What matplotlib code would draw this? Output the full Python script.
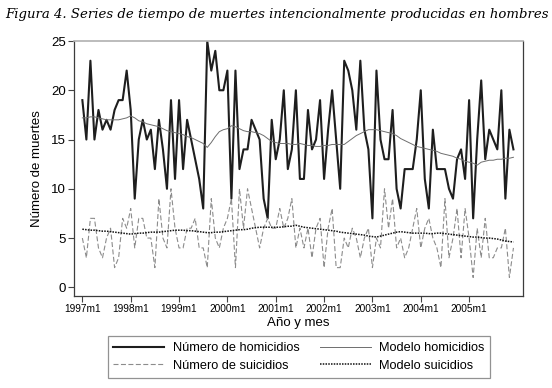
#!/usr/bin/env python3
import matplotlib
matplotlib.use("Agg")
import matplotlib.pyplot as plt
import numpy as np

matplotlib.rcParams.update({'font.family': 'Liberation Sans', 'font.size': 9.5})

# monthly series, 1997m1 .. 2005m12
homicidios = [19, 15, 23, 15, 18, 16, 17, 16, 18, 19, 19, 22,
              18, 9, 15, 17, 15, 16, 12, 17, 14, 10, 19, 11,
              19, 12, 17, 15, 13, 11, 8, 25, 22, 24, 20, 20,
              22, 9, 22, 12, 14, 14, 17, 16, 15, 9, 7, 17,
              13, 15, 20, 12, 14, 20, 11, 11, 18, 14, 15, 19,
              11, 16, 20, 15, 10, 23, 22, 20, 16, 23, 16, 14,
              7, 22, 15, 13, 13, 18, 10, 8, 12, 12, 12, 15,
              20, 11, 8, 16, 12, 12, 12, 10, 9, 13, 14, 11,
              19, 7, 15, 21, 13, 16, 15, 14, 20, 9, 16, 14]

suicidios = [5, 3, 7, 7, 4, 3, 5, 6, 2, 3, 7, 6,
             8, 4, 7, 7, 5, 5, 2, 9, 5, 4, 10, 6,
             4, 4, 6, 6, 7, 4, 4, 2, 9, 5, 4, 6,
             7, 9, 2, 10, 6, 10, 8, 6, 4, 6, 7, 6,
             6, 8, 6, 7, 9, 4, 6, 4, 6, 3, 6, 7,
             2, 6, 8, 2, 2, 5, 4, 6, 5, 3, 5, 6,
             2, 5, 4, 10, 6, 9, 4, 5, 3, 4, 6, 8,
             4, 6, 7, 5, 4, 2, 9, 3, 5, 8, 3, 8,
             5, 1, 6, 3, 7, 3, 3, 4, 4, 6, 1, 4]

modelo_hom = [17.2, 17.2, 17.3, 17.3, 17.2, 17.1, 17.0, 17.0, 17.0, 17.0, 17.1, 17.2,
              17.4, 17.2, 16.9, 16.8, 16.6, 16.5, 16.4, 16.3, 16.1, 15.9, 15.8, 15.7,
              15.6, 15.5, 15.3, 15.2, 15.0, 14.8, 14.6, 14.2, 14.7, 15.3, 15.8, 16.0,
              16.1, 16.4, 16.3, 16.1, 15.9, 15.8, 15.8, 15.7, 15.6, 15.4, 15.1, 14.8,
              14.7, 14.6, 14.6, 14.6, 14.5, 14.5, 14.6, 14.5, 14.4, 14.4, 14.3, 14.3,
              14.4, 14.4, 14.5, 14.5, 14.5, 14.5, 14.8, 15.1, 15.4, 15.6, 15.8, 16.0,
              16.0, 16.0, 15.9, 15.8, 15.7, 15.6, 15.4, 15.1, 14.9, 14.7, 14.5, 14.3,
              14.2, 14.1, 14.0, 13.9, 13.8, 13.6, 13.5, 13.4, 13.3, 13.1, 13.0, 12.8,
              12.7, 12.6, 12.4, 12.7, 12.8, 12.9, 12.9, 13.0, 13.0, 13.1, 13.1, 13.2]

modelo_sui = [5.9, 5.85, 5.8, 5.8, 5.75, 5.7, 5.7, 5.65, 5.6, 5.55, 5.5, 5.45,
              5.4, 5.45, 5.5, 5.5, 5.55, 5.6, 5.6, 5.6, 5.65, 5.7, 5.75, 5.8,
              5.8, 5.8, 5.75, 5.75, 5.7, 5.65, 5.6, 5.55, 5.55, 5.6, 5.6, 5.65,
              5.7, 5.75, 5.8, 5.85, 5.85, 5.9, 6.0, 6.05, 6.1, 6.1, 6.1, 6.1,
              6.1, 6.1, 6.15, 6.2, 6.2, 6.3, 6.2, 6.1, 6.05, 6.0, 5.95, 5.9,
              5.85, 5.8, 5.75, 5.7, 5.6, 5.55, 5.5, 5.45, 5.4, 5.35, 5.3, 5.2,
              5.15, 5.1, 5.2, 5.3, 5.4, 5.5, 5.6, 5.65, 5.6, 5.55, 5.5, 5.5,
              5.5, 5.5, 5.45, 5.45, 5.5, 5.5, 5.45, 5.4, 5.35, 5.3, 5.25, 5.2,
              5.15, 5.1, 5.1, 5.05, 5.0, 5.0, 4.95, 4.9, 4.8, 4.7, 4.65, 4.6]

years = list(range(1997, 2006))
tick_labels = [f'{y}m1' for y in years]

months = np.arange(len(homicidios))

fig = plt.figure(figsize=(5.52, 3.88), dpi=100)
ax = fig.add_axes([74.3/552, 1 - 296/388, (522.7 - 74.3)/552, (296 - 41)/388])

l1, = ax.plot(months, homicidios, color='#1e1e1e', lw=1.5, label='Número de homicidios')
l3, = ax.plot(months, modelo_hom, color='#6e6e6e', lw=0.7, label='Modelo homicidios')
l2, = ax.plot(months, suicidios, color='#8c8c8c', lw=0.8, dashes=(4.5, 2.2), label='Número de suicidios')
l4, = ax.plot(months, modelo_sui, color='#111111', lw=1.1, dashes=(1, 0.8), label='Modelo suicidios')

ax.set_xlim(-2, 109.3)
ax.set_ylim(-0.88, 25)
ax.set_yticks([0, 5, 10, 15, 20, 25])
ax.set_xticks(np.arange(0, len(homicidios), 12))
ax.set_xticklabels(tick_labels, fontsize=7.3)
ax.tick_params(axis='y', labelsize=9.5, length=4, width=0.8, color='#444444', pad=2)
ax.tick_params(axis='x', length=4, width=0.8, color='#444444', pad=2)

for side in ['left', 'bottom', 'right']:
    ax.spines[side].set_color('#3c3c3c')
    ax.spines[side].set_linewidth(0.9)
ax.spines['top'].set_color('#b0b0b0')
ax.spines['top'].set_linewidth(1.2)

ax.set_ylabel('Número de muertes', fontsize=9.5, labelpad=6)
ax.set_xlabel('Año y mes', fontsize=9.5, labelpad=2)

fig.text(5/552, 1 - 18/388, 'Figura 4. Series de tiempo de muertes intencionalmente producidas en hombres',
         family='DejaVu Serif', style='italic', fontsize=9.5, ha='left', va='baseline')

leg = fig.legend(handles=[l1, l2, l3, l4], ncol=2, loc='center',
                 bbox_to_anchor=(299/552, 1 - 357/388), frameon=True, fancybox=False,
                 fontsize=9.2, handlelength=4.0, handletextpad=0.65, columnspacing=1.6,
                 labelspacing=0.45, borderpad=0.45, borderaxespad=0)
leg.get_frame().set_edgecolor('#777777')
leg.get_frame().set_linewidth(0.9)

fig.savefig('out.png', dpi=100)
